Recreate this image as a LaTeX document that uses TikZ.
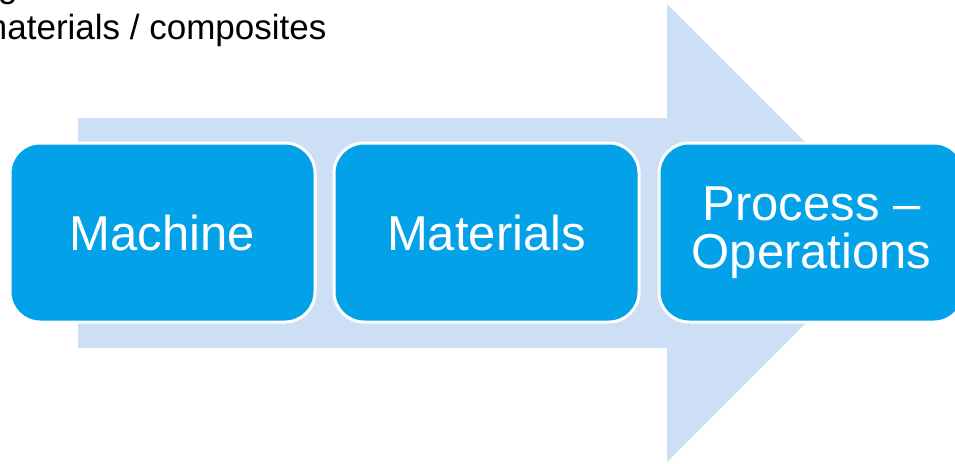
\documentclass[tikz,border=0pt]{standalone}
\usepackage{fontspec}
\setmainfont{Liberation Sans}
\usepackage{tikz}
\usetikzlibrary{positioning,calc}
\definecolor{stageblue}{RGB}{3,161,232}
\definecolor{flowblue}{RGB}{204,223,245}
\tikzstyle{stage} = [rectangle, rounded corners=30pt, fill=stageblue, draw=white, line width=3pt, minimum width=305pt, minimum height=179pt, text=white, align=center, font=\fontsize{49}{48}\selectfont]
\tikzstyle{flow} = [fill=flowblue, draw=none]
\tikzstyle{caption} = [inner sep=0pt, anchor=base west, font=\fontsize{35}{41}\selectfont]

\begin{document}
\begin{tikzpicture}[x=1pt, y=-1pt]
    % Frame
    \useasboundingbox (0,0) rectangle (955,463);
    \clip (0,0) rectangle (955,463);

    % Heading text
    \node[caption] (prevline) at (-2,-2) {g};
    \node[caption] (heading) at (-22,39) {materials / composites};

    % Arrow
    \coordinate (tail top) at (78,118);
    \coordinate (tail bottom) at (78,348);
    \coordinate (tip) at (896,233);
    \fill[flow] (tail top) -- (667,118) -- (667,4) -- (tip) -- (667,462) -- (667,348) -- (tail bottom) -- cycle;

    % Stages
    \node[stage] (machine) at (162.5,232.5) {Machine};
    \node[stage, right=16pt of machine] (materials) {Materials};
    \node[stage, right=17pt of materials] (process) {Process --\\Operations};
\end{tikzpicture}
\end{document}
